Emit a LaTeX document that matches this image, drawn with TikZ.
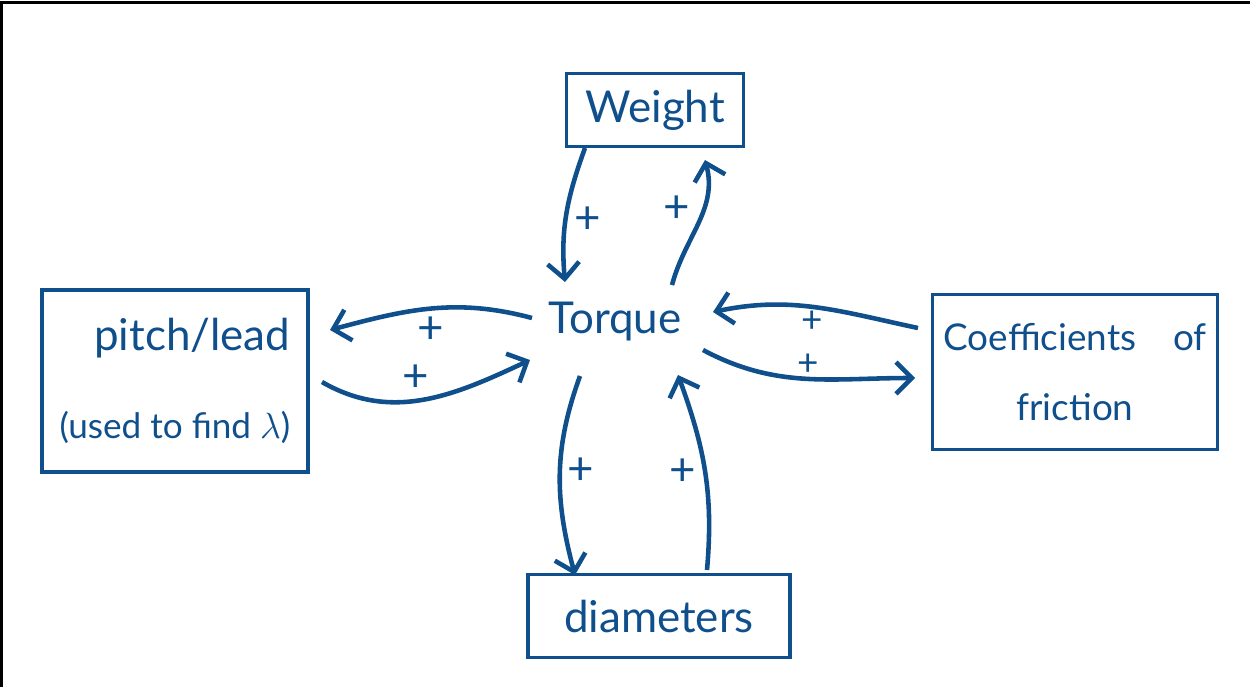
\documentclass[tikz,border=0pt]{standalone}
\usepackage{fontspec}
\setmainfont{Lato}
\usetikzlibrary{arrows.meta}
\definecolor{ink}{HTML}{0F4F8C}

\begin{document}
\begin{tikzpicture}[x=0.02cm, y=0.02cm, ->, >={Straight Barb[length=9pt,width=18pt]}, line width=2.6pt, color=ink, auto, font=\fontsize{25}{30}\selectfont]

        \tikzset{box/.style={draw=ink, line width=2.2pt, inner sep=0pt},
                 plus/.style={font=\fontsize{26}{28}\selectfont, inner sep=2pt},
                 small plus/.style={plus, font=\fontsize{21}{22}\selectfont, inner sep=0pt}}

        \useasboundingbox (0,0) rectangle (1250,-687);
        \draw[-, black, line width=1.7pt] (1.8,-687) -- (1.8,-2.3) -- (1250,-2.3);

        \node (torque) at (615,-322) {Torque};

        \node[box, minimum width=3.54cm, minimum height=1.46cm] (weight) at (655,-110) {Weight};
        \node[box, minimum width=5.32cm, minimum height=3.64cm, align=right] (pitch) at (175,-381)
            {pitch/lead\\[20pt]{\fontsize{20}{24}\selectfont (used to find $\lambda$)}};
        \node[box, minimum width=5.7cm, minimum height=3.1cm, align=center, font=\fontsize{21}{26}\selectfont] (coeff) at (1075,-372)
            {Coefficients\enspace\enspace of\\[14pt]friction};
        \node[box, minimum width=5.24cm, minimum height=1.66cm] (diam) at (659,-616) {diameters};

        \path
        ([shift={(-70,-38)}]weight.center) edge[out=250, in=95]  node[plus, pos=0.4]  {+} ([shift={(-50,40)}]torque.center)
        ([shift={(57,37)}]torque.center)   edge[out=75, in=-75]  node[plus, pos=0.45] {+} ([shift={(50,-50)}]weight.center)

        ([shift={(-83,4)}]torque.center)   edge[out=165, in=15]  node[plus, pos=0.6]  {+} ([shift={(155,51)}]pitch.center)
        ([shift={(147,-1)}]pitch.center)   edge[out=-30, in=205] node[plus, pos=0.55] {+} ([shift={(-85,-38)}]torque.center)

        ([shift={(-157,44)}]coeff.center)  edge[out=168, in=12]  node[small plus, pos=0.45] {+} ([shift={(98,10)}]torque.center)
        ([shift={(88,-28)}]torque.center)  edge[out=-28, in=180] node[small plus, pos=0.45] {+} ([shift={(-160,-6)}]coeff.center)

        ([shift={(-35,-54)}]torque.center) edge[out=250, in=105] node[plus, pos=0.38] {+} ([shift={(-84,41)}]diam.center)
        ([shift={(48,46)}]diam.center)     edge[out=85, in=-70]  node[plus, pos=0.6]  {+} ([shift={(63,-53)}]torque.center)
        ;
\end{tikzpicture}
\end{document}
